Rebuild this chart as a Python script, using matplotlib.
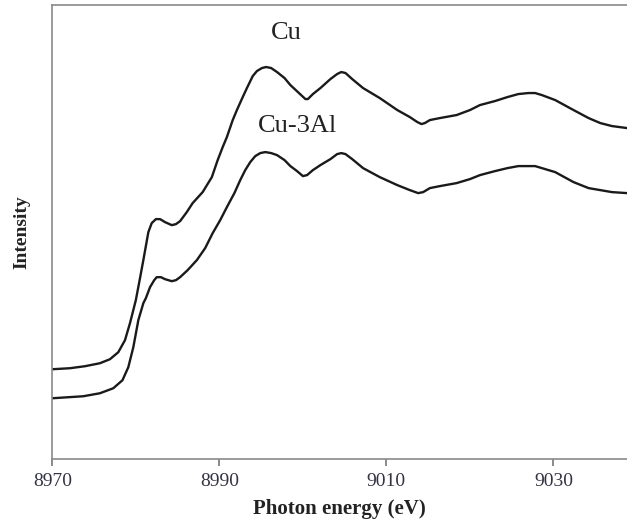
import numpy as np
import matplotlib.pyplot as plt

# XANES spectra near the Cu K-edge (intensity in arbitrary units, Cu offset upward)
cu_energy = [8970.0, 8972.1, 8973.9, 8975.7, 8976.9, 8977.9, 8978.7, 8979.3, 8980.0,
             8980.5, 8980.9, 8981.5, 8981.9, 8982.4, 8982.9, 8983.5, 8984.3, 8984.8,
             8985.3, 8986.1, 8986.8, 8988.0, 8989.1, 8989.8, 8990.4, 8990.9, 8991.6,
             8992.1, 8992.8, 8993.3, 8994.0, 8994.5, 8995.1, 8995.6, 8996.2, 8996.9,
             8997.8, 8998.5, 8999.4, 9000.3, 9000.6, 9001.2, 9002.1, 9003.3, 9004.1,
             9004.6, 9005.1, 9005.9, 9007.2, 9009.2, 9011.3, 9012.8, 9013.7, 9014.2,
             9014.6, 9015.2, 9016.4, 9018.4, 9020.0, 9021.2, 9023.0, 9024.5, 9025.8,
             9027.0, 9027.8, 9028.6, 9030.2, 9032.4, 9034.2, 9035.6, 9037.0, 9038.8]
cu = [0.90, 0.91, 0.93, 0.96, 1.00, 1.07, 1.19, 1.36, 1.59,
      1.81, 1.99, 2.27, 2.36, 2.40, 2.40, 2.37, 2.34, 2.35,
      2.38, 2.47, 2.56, 2.67, 2.82, 2.99, 3.12, 3.22, 3.39,
      3.49, 3.62, 3.71, 3.83, 3.88, 3.91, 3.92, 3.91, 3.87,
      3.81, 3.74, 3.67, 3.60, 3.60, 3.65, 3.71, 3.80, 3.85,
      3.87, 3.86, 3.80, 3.71, 3.61, 3.49, 3.42, 3.37, 3.35,
      3.36, 3.39, 3.41, 3.44, 3.49, 3.54, 3.58, 3.62, 3.65,
      3.66, 3.66, 3.64, 3.59, 3.49, 3.41, 3.36, 3.33, 3.31]

al_energy = [8970.0, 8973.7, 8975.7, 8977.3, 8978.4, 8979.1, 8979.7, 8980.3, 8980.9,
             8981.2, 8981.7, 8982.2, 8982.5, 8983.0, 8983.5, 8984.3, 8984.8, 8985.3,
             8986.2, 8987.3, 8988.3, 8989.2, 8990.1, 8990.9, 8991.8, 8992.5, 8993.1,
             8993.7, 8994.3, 8994.9, 8995.5, 8996.2, 8996.9, 8997.8, 8998.5, 8999.3,
             9000.0, 9000.5, 9001.2, 9002.1, 9003.3, 9004.1, 9004.6, 9005.1, 9005.9,
             9007.2, 9009.2, 9011.3, 9012.8, 9013.8, 9014.4, 9015.2, 9016.4, 9018.4,
             9020.0, 9021.2, 9023.0, 9024.5, 9025.8, 9027.0, 9027.8, 9028.6, 9030.2,
             9032.4, 9034.2, 9035.6, 9037.0, 9038.8]
cu_3al = [0.61, 0.63, 0.66, 0.71, 0.79, 0.92, 1.12, 1.39, 1.56,
          1.61, 1.72, 1.79, 1.82, 1.82, 1.80, 1.78, 1.79, 1.82,
          1.89, 1.99, 2.11, 2.26, 2.39, 2.52, 2.66, 2.79, 2.89,
          2.97, 3.03, 3.06, 3.07, 3.06, 3.04, 2.99, 2.93, 2.88,
          2.83, 2.84, 2.89, 2.94, 3.00, 3.05, 3.06, 3.05, 3.00,
          2.91, 2.82, 2.74, 2.69, 2.66, 2.67, 2.71, 2.73, 2.76,
          2.80, 2.84, 2.88, 2.91, 2.93, 2.93, 2.93, 2.91, 2.87,
          2.77, 2.71, 2.69, 2.67, 2.66]

xticks = [8970, 8990, 9010, 9030]

plt.rcParams['font.family'] = ['Liberation Serif', 'DejaVu Serif']

fig = plt.figure(figsize=(6.27, 5.30), dpi=100)
ax = fig.add_axes([0.0834, 0.1334, 0.9166, 0.8572])

ink = '#1a1a1a'
ax.plot(cu_energy, cu, color=ink, lw=1.7, solid_joinstyle='round')
ax.plot(al_energy, cu_3al, color=ink, lw=1.7, solid_joinstyle='round')

ax.text(8998.0, 4.26, 'Cu', fontsize=19, color='#222222', ha='center', va='center')
ax.text(8999.4, 3.33, 'Cu-3Al', fontsize=19, color='#222222', ha='center', va='center')

ax.set_xlim(8970, 9038.8)
ax.set_ylim(0, 4.54)
ax.set_xticks(xticks)
ax.set_yticks([])
ax.tick_params(axis='x', direction='out', length=5, width=1.2, color='#777777',
               labelsize=14, labelcolor='#333344', pad=5)

for side in ['left', 'bottom', 'top']:
    ax.spines[side].set_color('#8a8a8a')
    ax.spines[side].set_linewidth(1.2)
ax.spines['right'].set_visible(False)

ax.set_xlabel('Photon energy (eV)', fontsize=15, fontweight='bold', color='#222222', labelpad=6)
ax.set_ylabel('Intensity', fontsize=14, fontweight='bold', color='#222222', labelpad=16)

fig.savefig('out.png', dpi=100)
